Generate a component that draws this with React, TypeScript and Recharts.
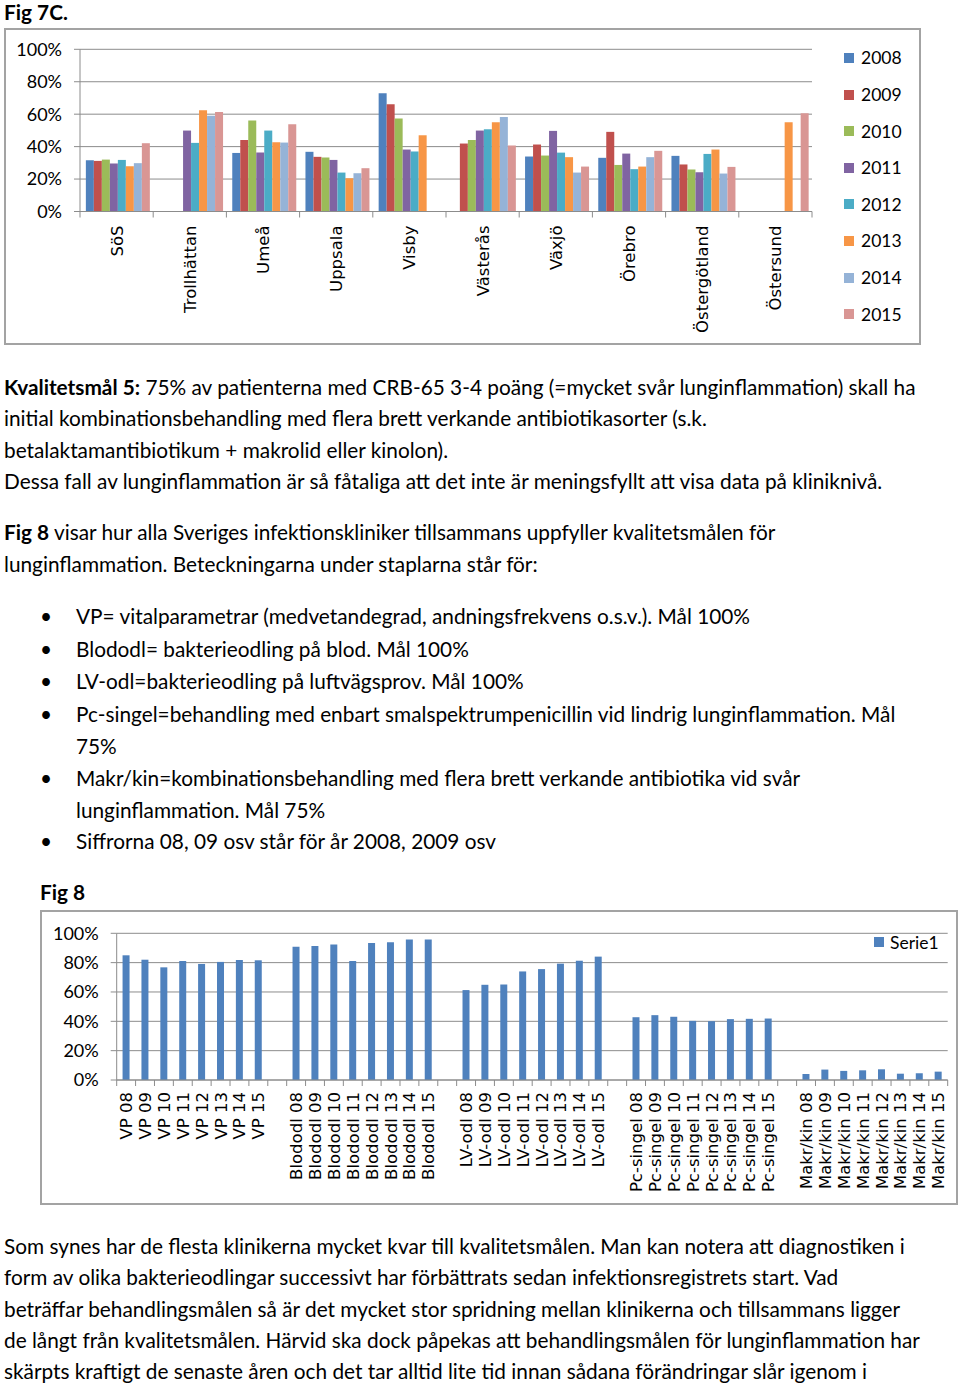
import React from 'react';
import { BarChart, Bar, XAxis, YAxis, CartesianGrid, Legend } from 'recharts';

// ---------- Fig 7C data ----------
const clinics = ['SöS', 'Trollhättan', 'Umeå', 'Uppsala', 'Visby', 'Västerås', 'Växjö', 'Örebro', 'Östergötland', 'Östersund'];
const years = ['2008', '2009', '2010', '2011', '2012', '2013', '2014', '2015'];
const yearColors = ['#4F81BD', '#C0504D', '#9BBB59', '#8064A2', '#4BACC6', '#F79646', '#95B3D7', '#D99694'];
const v2008 = [31.6, null, 36.1, 36.8, 72.9, null, 33.9, 33.1, 34.3, null];
const v2009 = [31.2, null, 44.1, 33.7, 66.1, 41.9, 41.3, 49.1, 29.0, null];
const v2010 = [32.0, null, 56.1, 33.3, 57.3, 44.1, 34.5, 28.7, 25.9, null];
const v2011 = [29.6, 49.9, 36.3, 31.8, 38.2, 49.9, 49.7, 35.7, 24.2, null];
const v2012 = [31.8, 42.3, 49.9, 24.0, 37.0, 50.7, 36.3, 26.1, 35.5, null];
const v2013 = [27.9, 62.4, 42.7, 20.5, 47.0, 55.0, 33.5, 27.7, 38.2, 55.0];
const v2014 = [29.8, 59.1, 42.5, 23.6, null, 58.3, 24.0, 33.5, 23.4, null];
const v2015 = [42.1, 61.4, 53.8, 26.7, null, 40.7, 27.7, 37.4, 27.5, 60.6];
const yearSeries = [v2008, v2009, v2010, v2011, v2012, v2013, v2014, v2015];
const pctTicks = [0, 20, 40, 60, 80, 100];

// ---------- Fig 8 data ----------
const fig8Groups = ['VP', 'Blododl', 'LV-odl', 'Pc-singel', 'Makr/kin'];
const fig8Years = ['08', '09', '10', '11', '12', '13', '14', '15'];
const vp = [85.0, 82.0, 76.8, 81.1, 79.1, 80.5, 81.8, 81.6];
const blododl = [90.9, 91.4, 92.3, 81.1, 93.4, 93.9, 95.7, 95.7];
const lvOdl = [61.3, 64.9, 65.1, 74.0, 75.6, 79.3, 81.3, 84.1];
const pcSingel = [42.8, 44.2, 43.1, 40.3, 40.1, 41.5, 41.7, 41.9];
const makrKin = [4.1, 7.1, 6.2, 6.6, 7.3, 4.3, 4.6, 5.7];
const fig8Series = [vp, blododl, lvOdl, pcSingel, makrKin];
const fig8Name = 'Serie1';
const fig8Color = '#4F81BD';

// ---------- text ----------
const figTitle7 = 'Fig 7C.';
const figTitle8 = 'Fig 8';
const kvalBold = 'Kvalitetsmål 5:';
const kvalLines = [
  ' 75% av patienterna med CRB-65 3-4 poäng (=mycket svår lunginflammation) skall ha',
  'initial kombinationsbehandling med flera brett verkande antibiotikasorter (s.k.',
  'betalaktamantibiotikum + makrolid eller kinolon).',
  'Dessa fall av lunginflammation är så fåtaliga att det inte är meningsfyllt att visa data på kliniknivå.',
];
const fig8IntroLines = [
  ' visar hur alla Sveriges infektionskliniker tillsammans uppfyller kvalitetsmålen för',
  'lunginflammation. Beteckningarna under staplarna står för:',
];
const bulletItems = [
  ['VP= vitalparametrar (medvetandegrad, andningsfrekvens o.s.v.). Mål 100%'],
  ['Blododl= bakterieodling på blod. Mål 100%'],
  ['LV-odl=bakterieodling på luftvägsprov. Mål 100%'],
  ['Pc-singel=behandling med enbart smalspektrumpenicillin vid lindrig lunginflammation. Mål', '75%'],
  ['Makr/kin=kombinationsbehandling med flera brett verkande antibiotika vid svår', 'lunginflammation. Mål 75%'],
  ['Siffrorna 08, 09 osv står för år 2008, 2009 osv'],
];
const closingLines = [
  'Som synes har de flesta klinikerna mycket kvar till kvalitetsmålen. Man kan notera att diagnostiken i',
  'form av olika bakterieodlingar successivt har förbättrats sedan infektionsregistrets start. Vad',
  'beträffar behandlingsmålen så är det mycket stor spridning mellan klinikerna och tillsammans ligger',
  'de långt från kvalitetsmålen. Härvid ska dock påpekas att behandlingsmålen för lunginflammation har',
  'skärpts kraftigt de senaste åren och det tar alltid lite tid innan sådana förändringar slår igenom i',
];

// ---------- build tables ----------
const fig7Rows = clinics.map((c, i) => {
  const row: Record<string, any> = { clinic: c };
  years.forEach((y, k) => {
    row[y] = yearSeries[k][i];
  });
  return row;
});

const fig8Rows: Array<{ label: string; value: number | null }> = [];
fig8Groups.forEach((g, gi) => {
  if (gi > 0) fig8Rows.push({ label: '', value: null });
  fig8Years.forEach((y, yi) => {
    fig8Rows.push({ label: `${g} ${y}`, value: fig8Series[gi][yi] });
  });
});

// ---------- styles ----------
const PAGE_FONT = 'Lato, "Open Sans", sans-serif';
const AXIS_FONT = '"DejaVu Sans", Verdana, sans-serif';
const GRID = '#8c8c8c';
const BORDER = '#a3a3a3';
const TEXT_SIZE = 20.8;

function CatTick(props: any) {
  const { x, y, payload, index, visibleTicksCount, fontSize, gap, band, total } = props;
  const half = payload && payload.offset ? payload.offset : band / 2;
  const count = visibleTicksCount || total;
  return (
    <g>
      <line x1={x - half} y1={y} x2={x - half} y2={y + 6} stroke={GRID} strokeWidth={1} />
      {index === count - 1 ? (
        <line x1={x + half} y1={y} x2={x + half} y2={y + 6} stroke={GRID} strokeWidth={1} />
      ) : null}
      <text
        transform={`translate(${x},${y + gap}) rotate(-90)`}
        textAnchor="end"
        dy="0.36em"
        fontSize={fontSize}
        fontFamily={AXIS_FONT}
        fill="#000"
      >
        {payload.value}
      </text>
    </g>
  );
}

function TextLine({ x, y, children, size = TEXT_SIZE, lh = 28 }: any) {
  return (
    <div
      style={{
        position: 'absolute',
        left: x,
        top: y - lh / 2,
        height: lh,
        lineHeight: `${lh}px`,
        fontSize: size,
        whiteSpace: 'nowrap',
        fontFamily: PAGE_FONT,
        color: '#000',
      }}
    >
      {children}
    </div>
  );
}

function Fig7Legend(props: any) {
  const payload = props.payload || [];
  return (
    <div style={{ fontFamily: PAGE_FONT, fontSize: 17.5, color: '#000' }}>
      {payload.map((p: any) => (
        <div key={p.value} style={{ height: 36.6, display: 'flex', alignItems: 'center' }}>
          <span style={{ display: 'inline-block', width: 10, height: 10, background: p.color, marginRight: 7 }} />
          <span>{p.value}</span>
        </div>
      ))}
    </div>
  );
}

function Fig8Legend(props: any) {
  const payload = props.payload || [];
  return (
    <div style={{ fontFamily: PAGE_FONT, fontSize: 17.5, color: '#000' }}>
      {payload.map((p: any) => (
        <div key={p.value} style={{ height: 24, display: 'flex', alignItems: 'center' }}>
          <span style={{ display: 'inline-block', width: 10, height: 10, background: p.color, marginRight: 6 }} />
          <span>{p.value}</span>
        </div>
      ))}
    </div>
  );
}

const yTickStyle = { fontSize: 18, fontFamily: PAGE_FONT, fill: '#000' };

export default function App() {
  const c7 = { left: 4, top: 28, width: 917, height: 317 };
  const c8 = { left: 40, top: 910, width: 918, height: 295 };
  const band7 = (917 - 76 - 109) / clinics.length;
  const band8 = (918 - 76.7 - 10.3) / fig8Rows.length;

  return (
    <div style={{ position: 'absolute', left: 0, top: 0, width: 960, height: 1384, background: '#fff', overflow: 'hidden' }}>
      <TextLine x={4} y={12} lh={24}>
        <b>{figTitle7}</b>
      </TextLine>

      {/* Fig 7C chart */}
      <div
        style={{
          position: 'absolute',
          left: c7.left,
          top: c7.top,
          width: c7.width,
          height: c7.height,
          border: `2px solid ${BORDER}`,
          boxSizing: 'border-box',
        }}
      />
      <div style={{ position: 'absolute', left: c7.left, top: c7.top }}>
        <BarChart
          width={c7.width}
          height={c7.height}
          data={fig7Rows}
          margin={{ top: 21.3, right: 109, left: 0, bottom: 0 }}
          barCategoryGap="8%"
          barGap={0}
        >
          <CartesianGrid vertical={false} stroke={GRID} strokeWidth={1} />
          <XAxis
            dataKey="clinic"
            interval={0}
            height={133.5}
            tickLine={false}
            tickSize={0}
            tickMargin={0}
            axisLine={{ stroke: GRID }}
            tick={(p: any) => <CatTick {...p} fontSize={16.5} gap={14} band={band7} total={clinics.length} />}
          />
          <YAxis
            width={76}
            domain={[0, 100]}
            ticks={pctTicks}
            tickFormatter={(v: number) => `${v}%`}
            tick={yTickStyle}
            tickLine={{ stroke: GRID }}
            tickSize={6}
            tickMargin={12}
            axisLine={{ stroke: GRID }}
          />
          <Legend
            layout="vertical"
            align="center"
            verticalAlign="middle"
            wrapperStyle={{ left: 840, top: 11.7, width: 76 }}
            content={<Fig7Legend />}
          />
          {years.map((y, k) => (
            <Bar key={y} dataKey={y} name={y} fill={yearColors[k]} isAnimationActive={false} />
          ))}
        </BarChart>
      </div>

      {/* Kvalitetsmål text */}
      <TextLine x={4} y={387}>
        <b>{kvalBold}</b>
        {kvalLines[0]}
      </TextLine>
      <TextLine x={4} y={418}>{kvalLines[1]}</TextLine>
      <TextLine x={4} y={450}>{kvalLines[2]}</TextLine>
      <TextLine x={4} y={481}>{kvalLines[3]}</TextLine>

      <TextLine x={4} y={532}>
        <b>{figTitle8}</b>
        {fig8IntroLines[0]}
      </TextLine>
      <TextLine x={4} y={564}>{fig8IntroLines[1]}</TextLine>

      {(() => {
        const starts = [616, 649, 681, 714, 778, 841];
        return bulletItems.map((item, i) => (
          <React.Fragment key={i}>
            <TextLine x={40} y={starts[i]}>•</TextLine>
            {item.map((line, j) => (
              <TextLine key={j} x={76} y={starts[i] + j * 31.5}>
                {line}
              </TextLine>
            ))}
          </React.Fragment>
        ));
      })()}

      <TextLine x={40} y={892}>
        <b>{figTitle8}</b>
      </TextLine>

      {/* Fig 8 chart */}
      <div
        style={{
          position: 'absolute',
          left: c8.left,
          top: c8.top,
          width: c8.width,
          height: c8.height,
          border: `2px solid ${BORDER}`,
          boxSizing: 'border-box',
        }}
      />
      <div style={{ position: 'absolute', left: c8.left, top: c8.top }}>
        <BarChart
          width={c8.width}
          height={c8.height}
          data={fig8Rows}
          margin={{ top: 23.3, right: 10.3, left: 0, bottom: 0 }}
          barCategoryGap="31%"
        >
          <CartesianGrid vertical={false} stroke={GRID} strokeWidth={1} />
          <XAxis
            dataKey="label"
            interval={0}
            height={125}
            tickLine={false}
            tickSize={0}
            tickMargin={0}
            axisLine={{ stroke: GRID }}
            tick={(p: any) => <CatTick {...p} fontSize={16.5} gap={12} band={band8} total={fig8Rows.length} />}
          />
          <YAxis
            width={76.7}
            domain={[0, 100]}
            ticks={pctTicks}
            tickFormatter={(v: number) => `${v}%`}
            tick={yTickStyle}
            tickLine={{ stroke: GRID }}
            tickSize={6}
            tickMargin={12}
            axisLine={{ stroke: GRID }}
          />
          <Legend
            layout="vertical"
            align="center"
            verticalAlign="middle"
            wrapperStyle={{ left: 834, top: 20, width: 80 }}
            content={<Fig8Legend />}
          />
          <Bar dataKey="value" name={fig8Name} fill={fig8Color} isAnimationActive={false} />
        </BarChart>
      </div>

      {closingLines.map((line, i) => (
        <TextLine key={i} x={4} y={1246 + i * 31.25}>
          {line}
        </TextLine>
      ))}
    </div>
  );
}
